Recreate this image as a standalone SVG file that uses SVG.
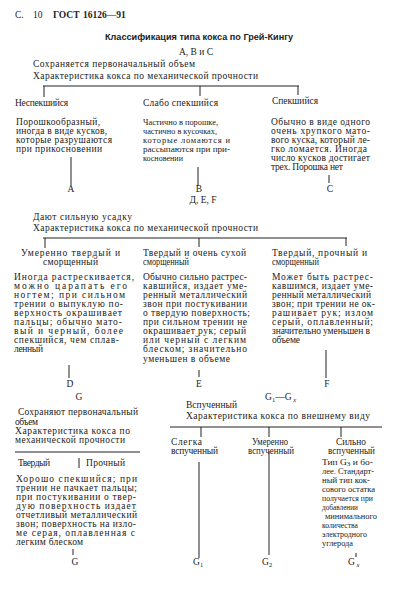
<svg xmlns="http://www.w3.org/2000/svg" width="416" height="600" viewBox="0 0 416 600">
<style>
text{font-family:"Liberation Serif","Times New Roman",serif;font-size:9.5px;fill:#222}
.b{font-weight:bold}
.t{font-family:"Liberation Sans",Arial,sans-serif;font-weight:bold;font-size:9px}
.m{text-anchor:middle}
.s{font-size:6.5px}
.n{font-size:8.5px}
line{stroke:#222;stroke-width:1}
</style>
<rect width="416" height="600" fill="#fff"/>
<g id="header">
<text y="18"><tspan x="15">С.</tspan><tspan x="33">10</tspan><tspan x="53" class="b">ГОСТ</tspan><tspan x="83" class="b">16126—91</tspan></text>
</g>
<g id="title"><text class="t" x="105" y="40" textLength="188" lengthAdjust="spacingAndGlyphs">Классификация типа кокса по Грей-Кингу</text></g>
<g id="abc-label"><text class="m" x="196" y="55">А, В и С</text></g>
<g id="abc-desc">
<text x="33" y="67" textLength="162">Сохраняется первоначальный объем</text>
<text x="33" y="79" textLength="225">Характеристика кокса по механической прочности</text>
</g>
<g id="nespek">
<text x="15" y="106" textLength="53">Неспекшийся</text>
<text x="16" y="125" textLength="84">Порошкообразный,</text>
<text x="16" y="134" textLength="91">иногда в виде кусков,</text>
<text x="16" y="143" textLength="96">которые разрушаются</text>
<text x="16" y="152" textLength="86">при прикосновении</text>
</g>
<g id="slabo">
<text x="143" y="106" textLength="75">Слабо спекшийся</text>
<text class="n" x="143" y="125" textLength="75" lengthAdjust="spacingAndGlyphs">Частично в порошке,</text>
<text class="n" x="143" y="134" textLength="74" lengthAdjust="spacingAndGlyphs">частично в кусочках,</text>
<text class="n" x="143" y="143" textLength="87">которые ломаются и</text>
<text class="n" x="143" y="152" textLength="87" lengthAdjust="spacingAndGlyphs">рассыпаются при при-</text>
<text class="n" x="143" y="161" textLength="40" lengthAdjust="spacingAndGlyphs">косновении</text>
</g>
<g id="spek">
<text x="272" y="104" textLength="46">Спекшийся</text>
<text x="271" y="125" textLength="99">Обычно в виде одного</text>
<text x="271" y="134" textLength="99">очень хрупкого мато-</text>
<text x="271" y="143" textLength="99">вого куска, который ле-</text>
<text x="271" y="152" textLength="96">гко ломается. Иногда</text>
<text x="271" y="161" textLength="99">число кусков достигает</text>
<text x="271" y="170" textLength="72">трех. Порошка нет</text>
</g>
<g id="label-A"><text class="m" x="71" y="192">А</text></g>
<g id="label-B"><text class="m" x="199" y="192">В</text></g>
<g id="label-C"><text class="m" x="330" y="192">С</text></g>
<g id="def-label"><text class="m" x="203" y="203">Д, Е, F</text></g>
<g id="def-desc">
<text x="33" y="220" textLength="99">Дают сильную усадку</text>
<text x="33" y="231" textLength="225">Характеристика кокса по механической прочности</text>
</g>
<g id="node-D">
<text x="21" y="256" textLength="99">Умеренно твердый и</text>
<text x="43" y="265" textLength="55">сморщенный</text>
<text x="14" y="280" textLength="120">Иногда растрескивается,</text>
<text x="14" y="289" textLength="113">можно царапать его</text>
<text x="14" y="298" textLength="111">ногтем; при сильном</text>
<text x="14" y="307" textLength="109">трении о выпуклую по-</text>
<text x="14" y="316" textLength="108">верхность окрашивает</text>
<text x="14" y="325" textLength="108">пальцы; обычно мато-</text>
<text x="14" y="334" textLength="109">вый и черный, более</text>
<text x="14" y="343" textLength="105">спекшийся, чем сплав-</text>
<text x="14" y="352" textLength="29">ленный</text>
</g>
<g id="node-E">
<text x="143" y="256" textLength="103">Твердый и очень сухой</text>
<text x="143" y="265" textLength="46" lengthAdjust="spacingAndGlyphs">сморщенный</text>
<text x="143" y="280" textLength="104">Обычно сильно растрес-</text>
<text x="143" y="289" textLength="104">кавшийся, издает уме-</text>
<text x="143" y="298" textLength="104">ренный металлический</text>
<text x="143" y="307" textLength="104">звон при постукивании</text>
<text x="143" y="316" textLength="107">о твердую поверхность;</text>
<text x="143" y="325" textLength="104">при сильном трении не</text>
<text x="143" y="334" textLength="103">окрашивает рук; серый</text>
<text x="143" y="343" textLength="103">или черный с легким</text>
<text x="143" y="352" textLength="104">блеском; значительно</text>
<text x="143" y="362" textLength="87">уменьшен в объеме</text>
</g>
<g id="node-F">
<text x="272" y="256" textLength="95">Твердый, прочный и</text>
<text x="272" y="265" textLength="47" lengthAdjust="spacingAndGlyphs">сморщенный</text>
<text x="272" y="280" textLength="101">Может быть растрес-</text>
<text x="272" y="289" textLength="101">кавшимся, издает уме-</text>
<text x="272" y="298" textLength="99">ренный металлический</text>
<text x="272" y="307" textLength="103">звон; при трении не ок-</text>
<text x="272" y="316" textLength="101">рашивает рук; излом</text>
<text x="272" y="325" textLength="101">серый, оплавленный;</text>
<text x="272" y="334" textLength="98">значительно уменьшен в</text>
<text x="272" y="343" textLength="28">объеме</text>
</g>
<g id="label-D"><text class="m" x="70" y="387">D</text></g>
<g id="label-E"><text class="m" x="199" y="387">E</text></g>
<g id="label-F"><text class="m" x="327" y="387">F</text></g>
<g id="label-G-top"><text class="m" x="79" y="400">G</text></g>
<g id="label-G1-Gx"><text x="265" y="400">G<tspan class="s" dy="1.5">1</tspan><tspan dy="-1.5">—G</tspan><tspan class="s" dy="1.5" font-style="italic"> x</tspan></text></g>
<g id="g-desc">
<text x="18" y="415" textLength="120">Сохраняют первоначальный</text>
<text x="15" y="424.5" textLength="23">объем</text>
<text x="15" y="434" textLength="115">Характеристика кокса по</text>
<text x="15" y="443" textLength="110">механической прочности</text>
</g>
<g id="g-split">
<text x="18" y="466" textLength="32">Твердый</text>
<text x="86" y="466" textLength="39">Прочный</text>
</g>
<g id="g-para">
<text x="16" y="482" textLength="121">Хорошо спекшийся; при</text>
<text x="16" y="491" textLength="121">трении не пачкает пальцы;</text>
<text x="16" y="500" textLength="120">при постукивании о твер-</text>
<text x="16" y="509" textLength="120">дую поверхность издает</text>
<text x="16" y="518" textLength="121">отчетливый металлический</text>
<text x="16" y="527" textLength="120">звон; поверхность на изло-</text>
<text x="16" y="536" textLength="119">ме серая, оплавленная с</text>
<text x="16" y="545" textLength="67">легким блеском</text>
</g>
<g id="label-G"><text class="m" x="75" y="565">G</text></g>
<g id="gx-desc">
<text x="186" y="408" textLength="51">Вспученный</text>
<text x="186" y="419" textLength="184">Характеристика кокса по внешнему виду</text>
</g>
<g id="slegka">
<text x="171" y="445" textLength="31">Слегка</text>
<text x="171" y="454" textLength="47">вспученный</text>
</g>
<g id="umerenno">
<text x="252" y="445" textLength="36" lengthAdjust="spacingAndGlyphs">Умеренно</text>
<text x="248" y="454" textLength="46" lengthAdjust="spacingAndGlyphs">вспученный</text>
</g>
<g id="silno">
<text x="336" y="445" textLength="30" lengthAdjust="spacingAndGlyphs">Сильно</text>
<text x="328" y="454" textLength="47" lengthAdjust="spacingAndGlyphs">вспученный</text>
<text class="n" x="322" y="464.5" textLength="51" lengthAdjust="spacingAndGlyphs">Тип G<tspan class="s" dy="1.5">3</tspan><tspan dy="-1.5"> и бо-</tspan></text>
<text class="n" x="322" y="474" textLength="52" lengthAdjust="spacingAndGlyphs">лее. Стандарт-</text>
<text class="n" x="322" y="483" textLength="48" lengthAdjust="spacingAndGlyphs">ный тип кок-</text>
<text class="n" x="322" y="492" textLength="53" lengthAdjust="spacingAndGlyphs">сового остатка</text>
<text class="n" x="322" y="501" textLength="51" lengthAdjust="spacingAndGlyphs">получается при</text>
<text class="n" x="322" y="510" textLength="36" lengthAdjust="spacingAndGlyphs">добавлении</text>
<text class="n" x="325" y="519" textLength="52" lengthAdjust="spacingAndGlyphs">минимального</text>
<text class="n" x="322" y="528" textLength="36" lengthAdjust="spacingAndGlyphs">количества</text>
<text class="n" x="322" y="537" textLength="45" lengthAdjust="spacingAndGlyphs">электродного</text>
<text class="n" x="322" y="546" textLength="31" lengthAdjust="spacingAndGlyphs">углерода</text>
</g>
<g id="label-G1"><text x="193" y="565">G<tspan class="s" dy="1.5">1</tspan></text></g>
<g id="label-G2"><text x="262" y="565">G<tspan class="s" dy="1.5">2</tspan></text></g>
<g id="label-Gx"><text x="348" y="565">G<tspan class="s" dy="1.5" font-style="italic"> x</tspan></text></g>
<g id="connectors">
<line x1="43" y1="86" x2="299" y2="86"/>
<line x1="44" y1="86" x2="44" y2="97"/>
<line x1="200" y1="86" x2="200" y2="96"/>
<line x1="298" y1="86" x2="298" y2="95"/>
<line x1="71" y1="157" x2="71" y2="185"/>
<line x1="198" y1="167" x2="198" y2="186"/>
<line x1="329" y1="175" x2="329" y2="183"/>
<line x1="43" y1="238" x2="347" y2="238"/>
<line x1="45" y1="238" x2="45" y2="248"/>
<line x1="199" y1="238" x2="199" y2="247"/>
<line x1="346" y1="238" x2="346" y2="246"/>
<line x1="69" y1="365" x2="69" y2="378"/>
<line x1="199" y1="370" x2="199" y2="377"/>
<line x1="326" y1="350" x2="326" y2="378"/>
<line x1="15" y1="452" x2="140" y2="452"/>
<line x1="79" y1="458" x2="79" y2="468"/>
<line x1="73" y1="549" x2="73" y2="555"/>
<line x1="170" y1="427" x2="382" y2="427"/>
<line x1="201" y1="427" x2="201" y2="437"/>
<line x1="269" y1="427" x2="269" y2="437"/>
<line x1="341" y1="427" x2="341" y2="437"/>
<line x1="199" y1="462" x2="199" y2="558"/>
<line x1="269" y1="451" x2="269" y2="555"/>
<line x1="356" y1="553" x2="356" y2="557"/>
</g>
</svg>
